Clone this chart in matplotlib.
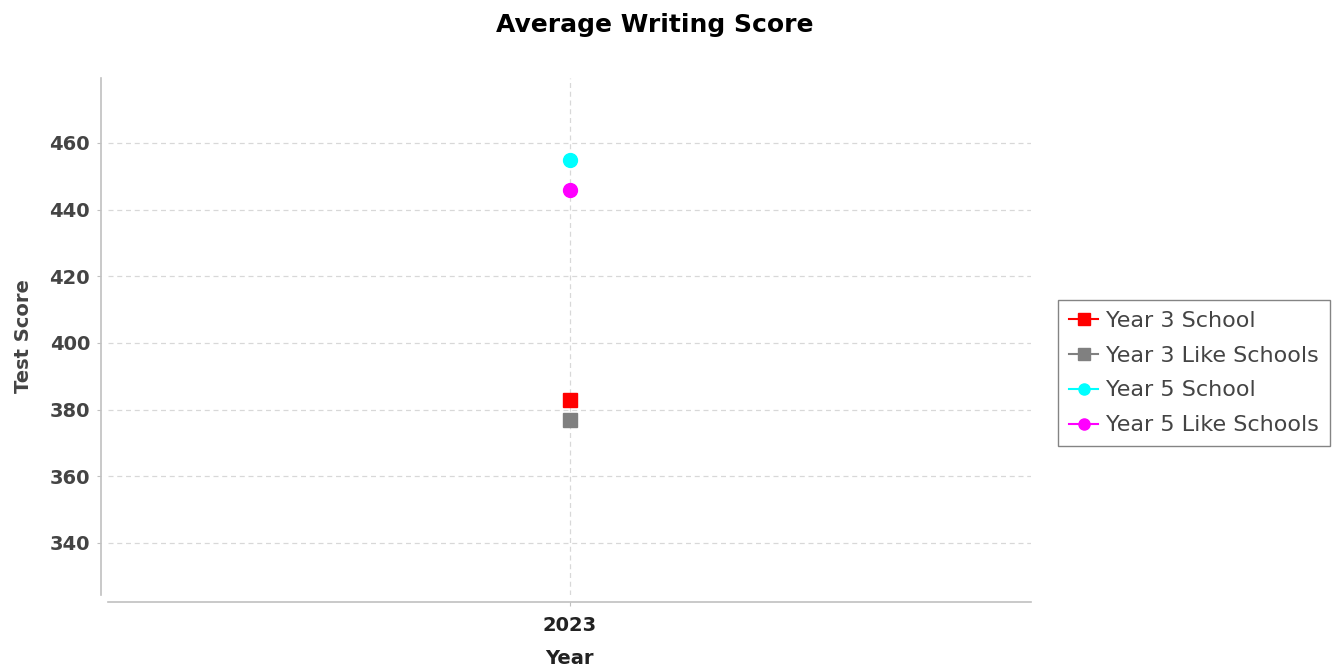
import matplotlib.pyplot as plt

plt.rcParams['font.family'] = ['DejaVu Sans']

years = [2023]
year3_school = [383]
year3_like = [377]
year5_school = [455]
year5_like = [446]

fig = plt.figure(figsize=(13.36, 6.71), dpi=100)
ax = fig.add_axes([108 / 1336, 1 - 595 / 671, (1031 - 108) / 1336, (595 - 78) / 671])

ax.plot(years, year3_school, color='#ff0000', marker='s', markersize=10, label='Year 3 School')
ax.plot(years, year3_like, color='#808080', marker='s', markersize=10, label='Year 3 Like Schools')
ax.plot(years, year5_school, color='#00ffff', marker='o', markersize=10, label='Year 5 School')
ax.plot(years, year5_like, color='#ff00ff', marker='o', markersize=10, label='Year 5 Like Schools')

ax.set_xlim(2022, 2024)
ax.set_ylim(324.4, 479.5)
ax.set_xticks(years)
ax.set_yticks([340, 360, 380, 400, 420, 440, 460])

ax.grid(True, color='#d8d8d8', linestyle=(0, (4, 3)), linewidth=0.9)
ax.set_axisbelow(True)

for s in ['top', 'right']:
    ax.spines[s].set_visible(False)
ax.spines['left'].set_position(('outward', 5))
ax.spines['bottom'].set_position(('outward', 5))
ax.spines['left'].set_color('#c0c0c0')
ax.spines['bottom'].set_color('#c0c0c0')
ax.spines['left'].set_linewidth(1.2)
ax.spines['bottom'].set_linewidth(1.2)

ax.tick_params(axis='both', colors='#c0c0c0', length=3, labelsize=14,
               labelcolor='#444444', pad=5)
ax.tick_params(axis='x', pad=7)
for lbl in ax.get_xticklabels() + ax.get_yticklabels():
    lbl.set_fontweight('bold')
ax.tick_params(axis='x', labelcolor='#222222')

ax.set_xlabel('Year', fontsize=14, fontweight='bold', color='#222222', labelpad=10)
ax.set_ylabel('Test Score', fontsize=14, fontweight='bold', color='#444444', labelpad=12)
fig.text(655 / 1336, 1 - 25 / 671, 'Average Writing Score', ha='center', va='center',
         fontsize=18, fontweight='bold', color='#000000')

leg = ax.legend(loc='center left', bbox_to_anchor=(1058 / 1336, 1 - 373 / 671),
                bbox_transform=fig.transFigure, fontsize=16, frameon=True, fancybox=False,
                handlelength=1.3, handletextpad=0.35, borderpad=0.5, labelspacing=0.67,
                markerscale=0.8, borderaxespad=0)
leg.get_frame().set_edgecolor('#666666')
leg.get_frame().set_linewidth(1.0)
for t in leg.get_texts():
    t.set_color('#444444')

plt.savefig('out.png', dpi=100)
